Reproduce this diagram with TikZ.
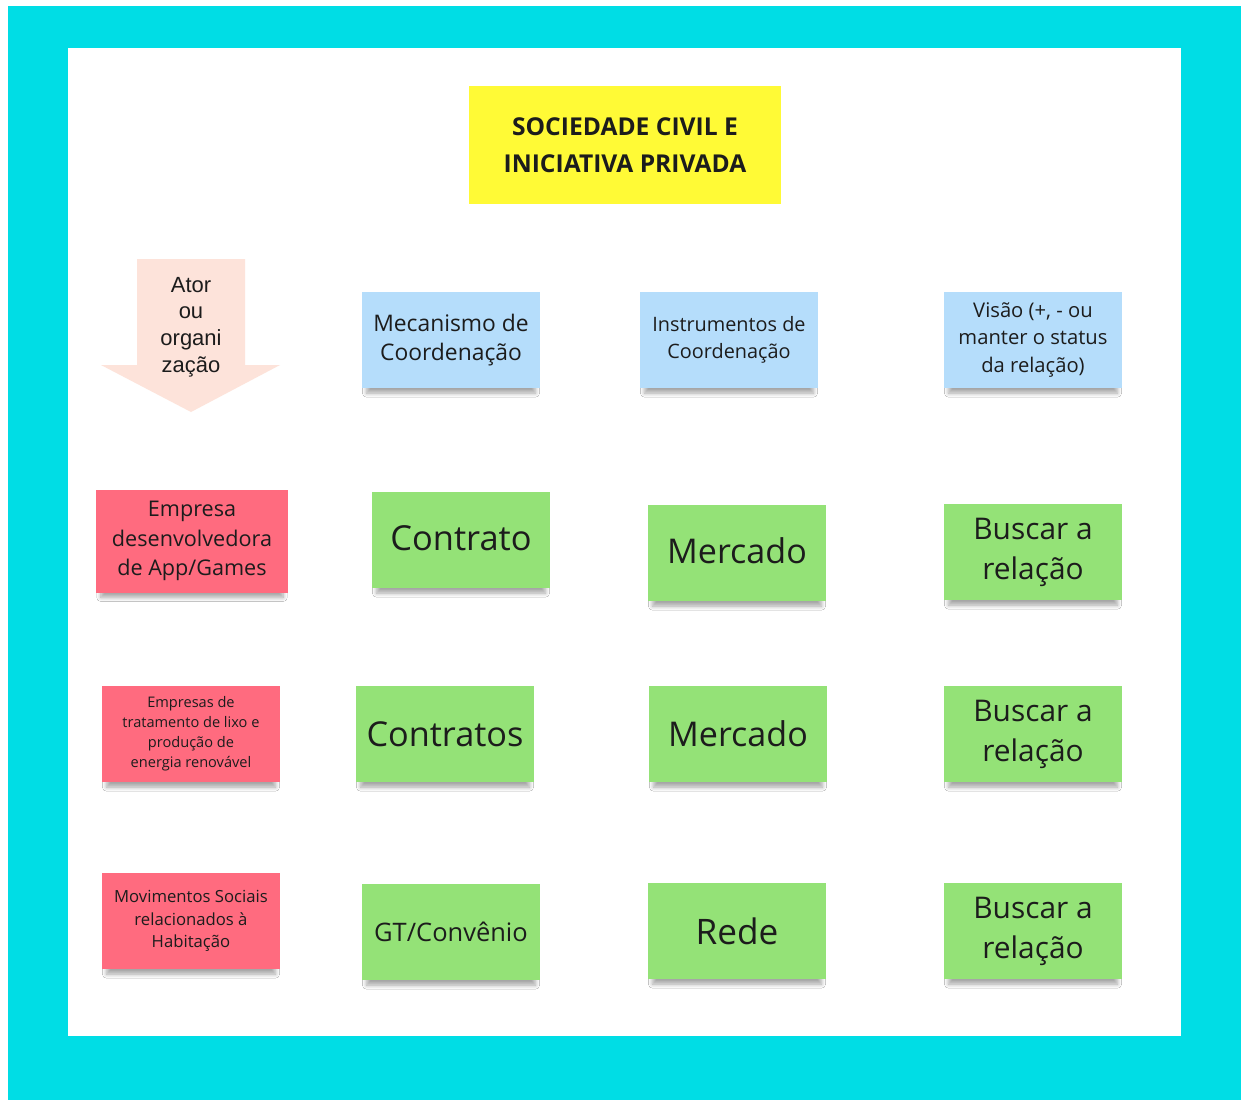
\documentclass[tikz,border=0pt]{standalone}
\usepackage{fontspec}
\setmainfont{Open Sans}
\newfontfamily\arrowfont{Liberation Sans}
\usetikzlibrary{shadows.blur}
\definecolor{frame}{HTML}{00DDE5}
\definecolor{notegreen}{HTML}{94E277}
\definecolor{noteblue}{HTML}{B5DDFB}
\definecolor{notered}{HTML}{FF6B7F}
\definecolor{noteyellow}{HTML}{FFFA36}
\definecolor{arrowpeach}{HTML}{FDE3DA}
\definecolor{inktext}{HTML}{1C1C1C}
\newcommand{\fs}[2]{\fontsize{#1}{#2}\selectfont}

\begin{document}
\begin{tikzpicture}[x=0.02cm,y=-0.02cm,
    plain note/.style={inner sep=0pt, align=center, text=inktext,
        minimum width=3.56cm, minimum height=1.92cm},
    note/.style={plain note,
        blur shadow={shadow xshift=0pt, shadow yshift=-4.5pt, shadow scale=0.95,
            shadow opacity=35, shadow blur steps=8, shadow blur radius=2.4pt}},
    green note/.style={note, fill=notegreen},
    blue note/.style={note, fill=noteblue},
    red note/.style={note, fill=notered}]
    % frame
    \fill[white] (0,0) rectangle (1241,1100);
    \fill[frame] (8,6) rectangle (1241,1100);
    \fill[white] (68,48) rectangle (1181,1036);
    % title
    \node[plain note, fill=noteyellow, minimum width=6.24cm, minimum height=2.36cm,
        font=\fs{14}{21}\bfseries] (title) at (625,145) {SOCIEDADE CIVIL E\\INICIATIVA PRIVADA};
    % arrow
    \fill[arrowpeach] (137,259)--(245,259)--(245,365)--(280,365)--(191,412)--(101,365)--(137,365)--cycle;
    \node[align=center, text=inktext, font=\arrowfont\fs{12.5}{15.2}] (ator) at (191,327) {Ator\\ou\\organi\\zação};
    % headers
    \node[blue note, font=\fs{13}{17}] (mecanismo) at (451,340) {Mecanismo de\\Coordenação};
    \node[blue note, font=\fs{11.3}{15.2}] (instrumentos) at (729,340) {Instrumentos de\\Coordenação};
    \node[blue note, font=\fs{11.5}{15.4}] (visao) at (1033,340) {Visão (+, - ou\\manter o status\\da relação)};
    % actors
    \node[red note, minimum width=3.84cm, minimum height=2.06cm, font=\fs{12.3}{17}] (appgames) at (192,541)
        {Empresa\\desenvolvedora\\de App/Games};
    \node[red note, font=\fs{8.3}{11.4}] (lixo) at (191,734)
        {Empresas de\\tratamento de lixo e\\produção de\\energia renovável};
    \node[red note, font=\fs{9.5}{13}] (movimentos) at (191,921)
        {Movimentos Sociais\\relacionados à\\Habitação};
    % row 1
    \node[green note, font=\fs{19.6}{24}] (contrato) at (461,540) {\raisebox{2.8pt}{Contrato}};
    \node[green note, font=\fs{19.4}{24}] (mercado1) at (737,553) {\raisebox{2.8pt}{Mercado}};
    \node[green note, font=\fs{17}{22.8}] (buscar1) at (1033,552) {Buscar a\\relação};
    % row 2
    \node[green note, font=\fs{19.5}{24}] (contratos) at (445,734) {Contratos};
    \node[green note, font=\fs{19.4}{24}] (mercado2) at (738,734) {Mercado};
    \node[green note, font=\fs{17}{22.8}] (buscar2) at (1033,734) {Buscar a\\relação};
    % row 3
    \node[green note, font=\fs{14.5}{18}] (convenio) at (451,932) {GT/Convênio};
    \node[green note, font=\fs{20}{24}] (rede) at (737,931) {Rede};
    \node[green note, font=\fs{17}{22.8}] (buscar3) at (1033,931) {Buscar a\\relação};
\end{tikzpicture}
\end{document}
